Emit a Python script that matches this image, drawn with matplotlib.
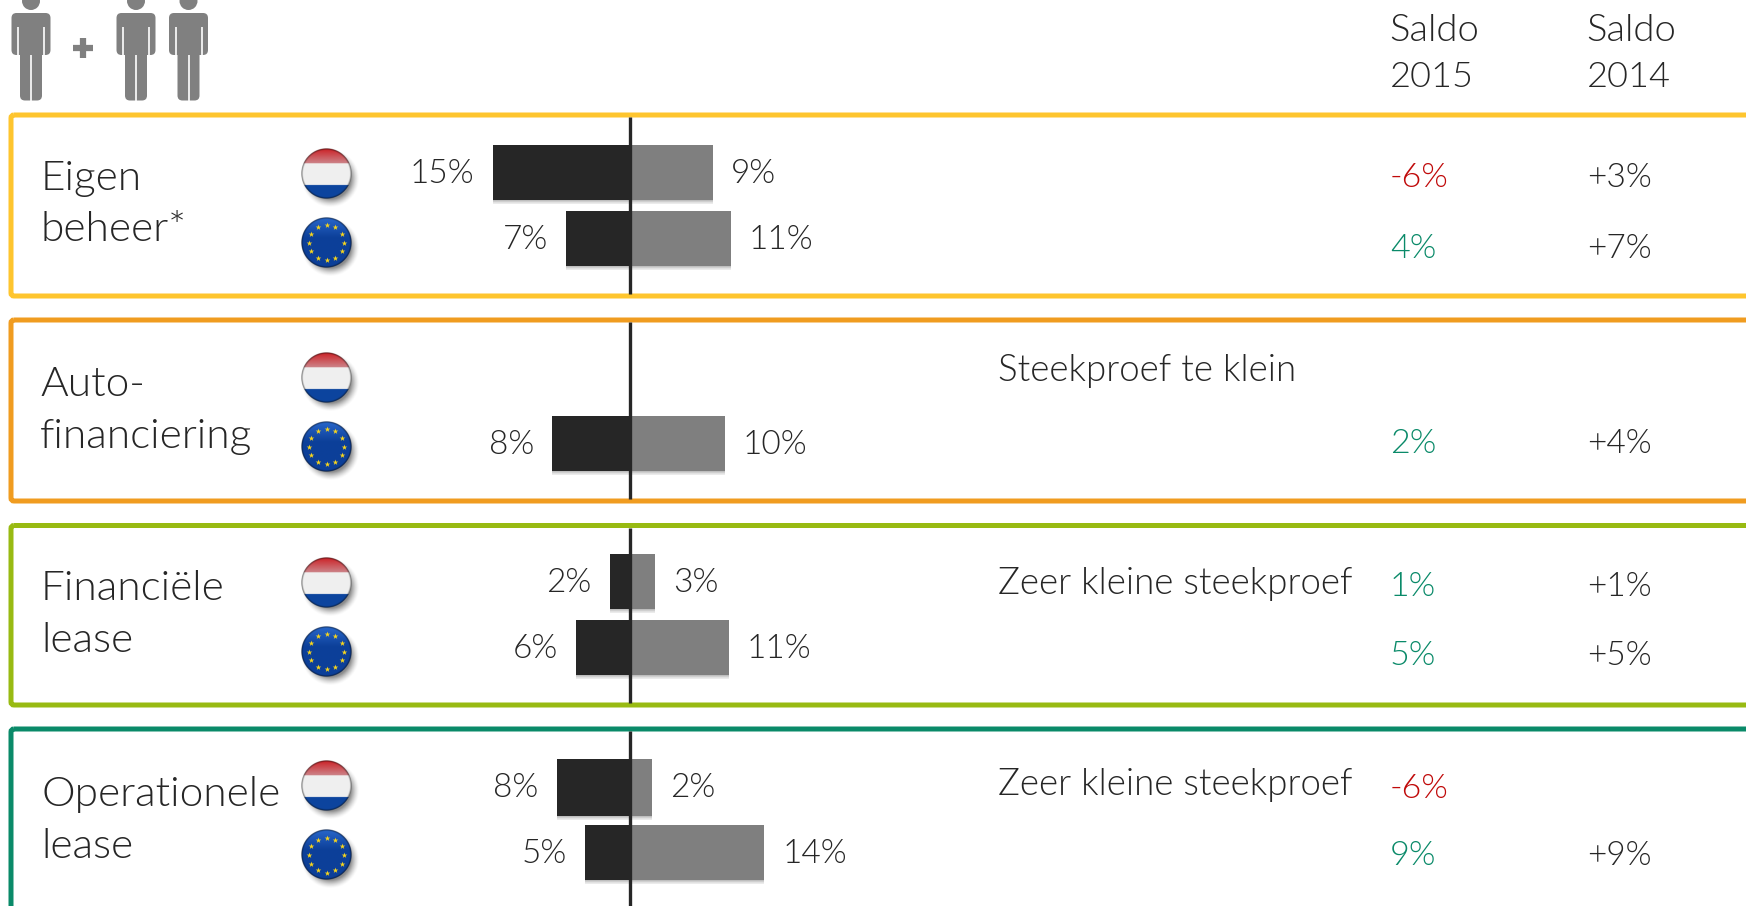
# Saldo chart: share of people per financing type, NL against EU
import matplotlib
matplotlib.use('Agg')
import matplotlib.pyplot as plt
from matplotlib.patches import Circle, FancyBboxPatch
import numpy as np

categories = [['Eigen', 'beheer*'], ['Auto-', 'financiering'], ['Financiële', 'lease'], ['Operationele', 'lease']]
box_colors = ['#fec52e', '#f09c20', '#98ba12', '#0a8a69']

# bar lengths, labels as printed
nl_left = [15.0, None, 2.4, 8.1]
nl_right = [8.7, None, 2.5, 2.2]
eu_left = [7.1, 8.6, 6.0, 5.1]
eu_right = [10.6, 10.0, 10.4, 14.2]
nl_left_labels = ['15%', '', '2%', '8%']
nl_right_labels = ['9%', '', '3%', '2%']
eu_left_labels = ['7%', '8%', '6%', '5%']
eu_right_labels = ['11%', '10%', '11%', '14%']

notes = ['', 'Steekproef te klein', 'Zeer kleine steekproef', 'Zeer kleine steekproef']
nl_saldo_2015 = ['-6%', '', '1%', '-6%']
eu_saldo_2015 = ['4%', '2%', '5%', '9%']
nl_saldo_2014 = ['+3%', '', '+1%', '']
eu_saldo_2014 = ['+7%', '+4%', '+5%', '+9%']

W, H = 1746, 906
ZERO = 632
PX_PER_PCT = 9.3
FONT = dict(family='Lato', weight=300)
TEXT = '#262626'
GREEN = '#0a8a69'
RED = '#c00a0a'

# pixel layout per row
box_top = [115, 320, 525.5, 729]
box_bot = [296, 501, 705, 915]
nl_bar = [(145, 200), None, (554, 609), (759, 816)]
eu_bar = [(211, 266), (416, 471), (620, 675), (825, 880)]
flag_y = [(173.5, 242.5), (377.5, 446.5), (582.5, 651.5), (786, 855)]
cat_base = [(189.7, 240.7), (396.5, 448), (600, 652), (806, 857.5)]
cat_x = [41, 40, 41, 41]
note_base = [0, 381, 594, 795]
saldo_base = [(187.3, 257.7), (0, 453), (596, 665), (798.4, 865)]

fig = plt.figure(figsize=(W / 100, H / 100), dpi=100, facecolor='w')
bg = fig.add_axes([0, 0, 1, 1])
bg.set_axis_off()
ax = fig.add_axes([0, 0, 1, 1])
ax.set_axis_off()
ax.patch.set_alpha(0)


def flag_image(kind):
    n = 120
    yy, xx = np.mgrid[-1:1:n * 1j, -1:1:n * 1j]
    r = np.sqrt(xx ** 2 + yy ** 2)
    img = np.ones((n, n, 4))
    if kind == 'nl':
        img[..., :3] = np.array([0.94, 0.94, 0.94])
        top = yy < -0.4
        img[top, :3] = np.array([0.80, 0.12, 0.14])
        # gloss on the red band
        img[top, 1] += 0.4 * (yy[top] + 1) / 0.6
        img[top, 2] += 0.4 * (yy[top] + 1) / 0.6
        low = yy > 0.46
        img[low, :3] = np.array([0.05, 0.27, 0.62])
    else:
        img[..., :3] = np.array([0.05, 0.25, 0.6])
        gl = yy < -0.2
        img[gl, 0] += 0.14 * (-0.2 - yy[gl])
        img[gl, 1] += 0.2 * (-0.2 - yy[gl])
        img[gl, 2] += 0.25 * (-0.2 - yy[gl])
    shade = np.clip((1.0 - r) / 0.08, 0, 1) * 0.65 + 0.35
    img[..., :3] = np.clip(img[..., :3], 0, 1) * shade[..., None]
    img[..., 3] = np.clip((1.0 - r) * n / 2, 0, 1)
    return img


def shadow_image():
    n = 80
    yy, xx = np.mgrid[-1:1:n * 1j, -1:1:n * 1j]
    r = np.sqrt(xx ** 2 + yy ** 2)
    img = np.zeros((n, n, 4))
    img[..., 3] = np.clip((1 - r) / 0.3, 0, 1) ** 1.5 * 0.45
    return img


def draw_flag(cx, cy, kind):
    R = 25.5
    bg.imshow(shadow_image(), extent=(cx - R, cx + R + 8, cy + R + 9, cy - R + 1), zorder=2, aspect='auto')
    bg.imshow(flag_image(kind), extent=(cx - R, cx + R, cy + R, cy - R), zorder=3, aspect='auto')
    if kind == 'eu':
        ang = np.arange(12) * np.pi / 6
        bg.scatter(cx + 17.5 * np.cos(ang), cy + 17.5 * np.sin(ang), s=18, marker='*',
                   color='#f7d51d', linewidths=0, zorder=4)


def draw_person(cx):
    col = '#808080'
    bg.add_patch(Circle((cx, 1), 9, color=col, lw=0))
    bg.add_patch(FancyBboxPatch((cx - 19.5, 13), 39, 42, boxstyle='round,pad=0,rounding_size=5', fc=col, ec='none'))
    bg.add_patch(FancyBboxPatch((cx - 11, 45), 22, 55.5, boxstyle='round,pad=0,rounding_size=5', fc=col, ec='none'))
    for dx in (-13, 13):
        bg.plot([cx + dx, cx + dx], [27, 56], color='w', lw=1.2, solid_capstyle='butt')
    bg.plot([cx, cx], [55, 101], color='w', lw=1.2, solid_capstyle='butt')


for i in range(4):
    bg.add_patch(FancyBboxPatch((11, box_top[i]), W + 40, box_bot[i] - box_top[i],
                                boxstyle='round,pad=0,rounding_size=3', fc='none',
                                ec=box_colors[i], lw=3.6, zorder=5))
    for t, b in zip(cat_base[i], categories[i]):
        bg.text(cat_x[i], t, b, fontsize=30.5, color=TEXT, va='baseline', **FONT)
    draw_flag(326.5, flag_y[i][0], 'nl')
    draw_flag(326.5, flag_y[i][1], 'eu')
    if notes[i]:
        bg.text(998, note_base[i], notes[i], fontsize=26.4, color=TEXT, va='baseline', **FONT)
    for base, s15, s14 in zip(saldo_base[i], [nl_saldo_2015[i], eu_saldo_2015[i]], [nl_saldo_2014[i], eu_saldo_2014[i]]):
        if s15:
            c = RED if s15.startswith('-') else GREEN
            bg.text(1390, base, s15, fontsize=24.5, color=c, va='baseline', **FONT)
        if s14:
            bg.text(1587, base, s14, fontsize=24, color=TEXT, va='baseline', **FONT)

for cx in (31, 136, 188.5):
    draw_person(cx)
bg.plot([83, 83], [38, 58], color='#808080', lw=4.5, solid_capstyle='butt')
bg.plot([73, 93], [48, 48], color='#808080', lw=4.5, solid_capstyle='butt')

for x, year in ((1389.5, '2015'), (1586.5, '2014')):
    bg.text(x, 40.7, 'Saldo', fontsize=27.5, color=TEXT, va='baseline', **FONT)
    bg.text(x, 87, year, fontsize=26, color=TEXT, va='baseline', **FONT)

bg.set_xlim(0, W)
bg.set_ylim(H, 0)


def draw_bars(span, left, right, left_label, right_label):
    top, bot = span
    mid = (top + bot) / 2
    # soft shadow, only shows below the bars
    for k in range(1, 8):
        ax.barh(mid + k * 0.6, left + right, left=-left, height=bot - top + k * 0.0 + k * 0.0,
                color='k', alpha=0.04, lw=0, zorder=1)
    ax.barh(mid, -left, height=bot - top, color='#262626', lw=0, zorder=2)
    ax.barh(mid, right, height=bot - top, color='#7f7f7f', lw=0, zorder=2)
    ax.annotate(left_label, (-left, top + 38), xytext=(-18, 0), textcoords='offset pixels', ha='right',
                va='baseline', fontsize=24, color=TEXT, **FONT)
    ax.annotate(right_label, (right, top + 38), xytext=(18, 0), textcoords='offset pixels', ha='left',
                va='baseline', fontsize=24, color=TEXT, **FONT)


for i in range(4):
    ax.plot([-0.22, -0.22], [box_top[i] + 2, box_bot[i] - 2], color='#262626', lw=2.4, solid_capstyle='butt', zorder=3)
    if nl_bar[i] is not None:
        draw_bars(nl_bar[i], nl_left[i], nl_right[i], nl_left_labels[i], nl_right_labels[i])
    draw_bars(eu_bar[i], eu_left[i], eu_right[i], eu_left_labels[i], eu_right_labels[i])

ax.set_xlim(-ZERO / PX_PER_PCT, (W - ZERO) / PX_PER_PCT)
ax.set_ylim(H, 0)

plt.savefig('out.png', dpi=100)
